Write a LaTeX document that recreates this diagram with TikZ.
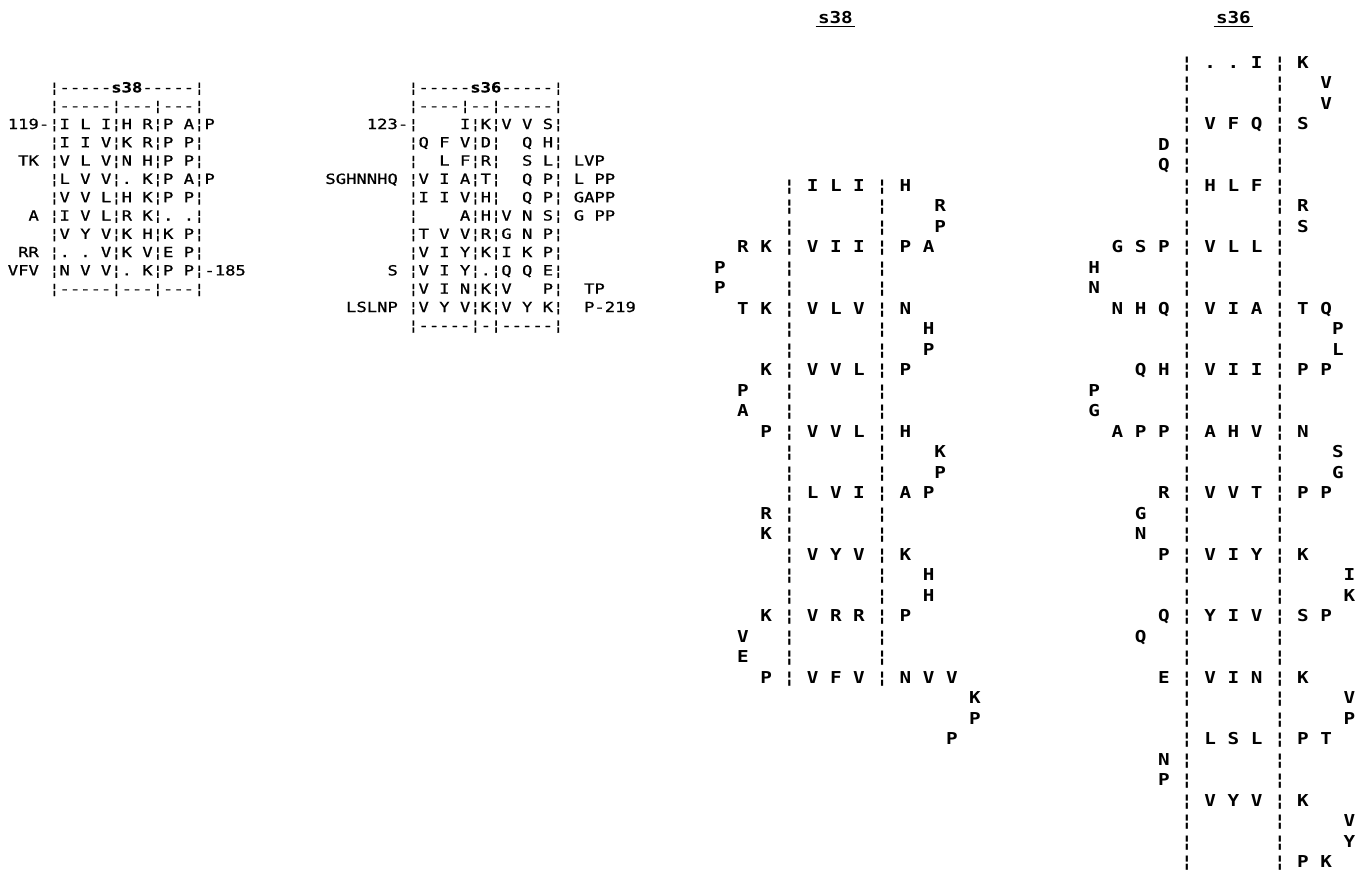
\documentclass[tikz,border=0pt]{standalone}
\usepackage{fontspec}
\usepackage{tikz}
\usetikzlibrary{positioning}
\newfontfamily\tabfont[Ligatures=TeXOff,FakeStretch=1.228,FakeBold=0.8]{DejaVu Sans Mono}
\newfontfamily\colfont[Ligatures=TeXOff,FakeStretch=1.175]{DejaVu Sans Mono}
\newcommand\tallstrut{\rule{0pt}{8pt}}
\tikzset{
  tab/.style={anchor=north west,inner sep=0pt,align=left,font=\tabfont\fontsize{7}{9.15}\selectfont},
  seqcol/.style={anchor=north west,inner sep=0pt,align=left,font=\colfont\bfseries\fontsize{8.2}{10.25}\selectfont},
  ttl/.style={inner sep=1pt,font=\colfont\bfseries\fontsize{8.2}{10}\selectfont},
  uline/.style={draw=black,line width=0.8pt}}

% the rows, spaces kept as typed
\begingroup\obeyspaces%
\gdef\alnA{%
    ¦-----\textbf{s38}-----¦\\%
    ¦-----¦---¦---¦\\%
119-¦I L I¦H R¦P A¦P\\%
    ¦I I V¦K R¦P P¦\\%
 TK ¦V L V¦N H¦P P¦\\%
    ¦L V V¦. K¦P A¦P\\%
    ¦V V L¦H K¦P P¦\\%
  A ¦I V L¦R K¦. .¦\\%
    ¦V Y V¦K H¦K P¦\\%
 RR ¦. . V¦K V¦E P¦\\%
VFV ¦N V V¦. K¦P P¦-185\\%
    ¦-----¦---¦---¦%
}%
\gdef\alnB{%
        ¦-----\textbf{s36}-----¦\\%
        ¦----¦--¦-----¦\\%
    123-¦    I¦K¦V V S¦\\%
        ¦Q F V¦D¦  Q H¦\\%
        ¦  L F¦R¦  S L¦ LVP\\%
SGHNNHQ ¦V I A¦T¦  Q P¦ L PP\\%
        ¦I I V¦H¦  Q P¦ GAPP\\%
        ¦    A¦H¦V N S¦ G PP\\%
        ¦T V V¦R¦G N P¦\\%
        ¦V I Y¦K¦I K P¦\\%
      S ¦V I Y¦.¦Q Q E¦\\%
        ¦V I N¦K¦V   P¦  TP\\%
  LSLNP ¦V Y V¦K¦V Y K¦  P-219\\%
        ¦-----¦-¦-----¦%
}%
\gdef\colA{%
      ¦ I L I ¦ H\\%
      ¦       ¦    R\\%
      ¦       ¦    P\\%
  R K ¦ V I I ¦ P A\\%
P     ¦       ¦\\%
P     ¦       ¦\\%
  T K ¦ V L V ¦ N\\%
      ¦       ¦   H\\%
      ¦       ¦   P\\%
    K ¦ V V L ¦ P\\%
  P   ¦       ¦\\%
  A   ¦       ¦\\%
    P ¦ V V L ¦ H\\%
      ¦       ¦    K\\%
      ¦       ¦    P\\%
      ¦ L V I ¦ A P\\%
    R ¦       ¦\\%
    K ¦       ¦\\%
      ¦ V Y V ¦ K\\%
      ¦       ¦   H\\%
      ¦       ¦   H\\%
    K ¦ V R R ¦ P\\%
  V   ¦       ¦\\%
  E   ¦       ¦\\%
    P ¦ V F V ¦ N V V\\%
                      K\\%
                      P\\%
                    P%
}%
\gdef\colB{%
        ¦ . . I ¦ K\\%
        ¦       ¦   V\\%
        ¦       ¦   V\\%
        ¦ V F Q ¦ S\\%
      D ¦       ¦\\%
      Q ¦       ¦\\%
        ¦ H L F ¦\\%
        ¦       ¦ R\\%
        ¦       ¦ S\\%
  G S P ¦ V L L ¦\\%
H       ¦       ¦\\%
N       ¦       ¦\\%
  N H Q ¦ V I A ¦ T Q\\%
        ¦       ¦    P\\%
        ¦       ¦    L\\%
    Q H ¦ V I I ¦ P P\\%
P       ¦       ¦\\%
G       ¦       ¦\\%
  A P P ¦ A H V ¦ N\\%
        ¦       ¦    S\\%
        ¦       ¦    G\\%
      R ¦ V V T ¦ P P\\%
    G   ¦       ¦\\%
    N   ¦       ¦\\%
      P ¦ V I Y ¦ K\\%
        ¦       ¦     I\\%
        ¦       ¦     K\\%
      Q ¦ Y I V ¦ S P\\%
    Q   ¦       ¦\\%
        ¦       ¦\\%
      E ¦ V I N ¦ K\\%
        ¦       ¦     V\\%
        ¦       ¦     P\\%
        ¦ L S L ¦ P T\\%
      N ¦       ¦\\%
      P ¦       ¦\\%
        ¦ V Y V ¦ K\\%
        ¦       ¦     V\\%
        ¦       ¦     Y\\%
        ¦       ¦ P K%
}%
\gdef {\ }%
\endgroup

\begin{document}
\begin{tikzpicture}[x=0.5pt,y=-0.5pt]
\useasboundingbox (0,0) rectangle (1356,880);
% alignments
\node[tab] (alnA) at (7.4,76) {\tallstrut\alnA};
\node[tab] (alnB) at (325,76) {\tallstrut\alnB};
% repeat columns
\node[seqcol] (colA) at (713.6,175) {\tallstrut\colA};
\node[seqcol] (colB) at (1088,52) {\tallstrut\colB};
\node[ttl] (ttlA) at (835.4,18) {s38};
\node[ttl] (ttlB) at (1233.4,18) {s36};
\draw[uline] (ttlA.south west) -- (ttlA.south east);
\draw[uline] (ttlB.south west) -- (ttlB.south east);
\end{tikzpicture}
\end{document}
